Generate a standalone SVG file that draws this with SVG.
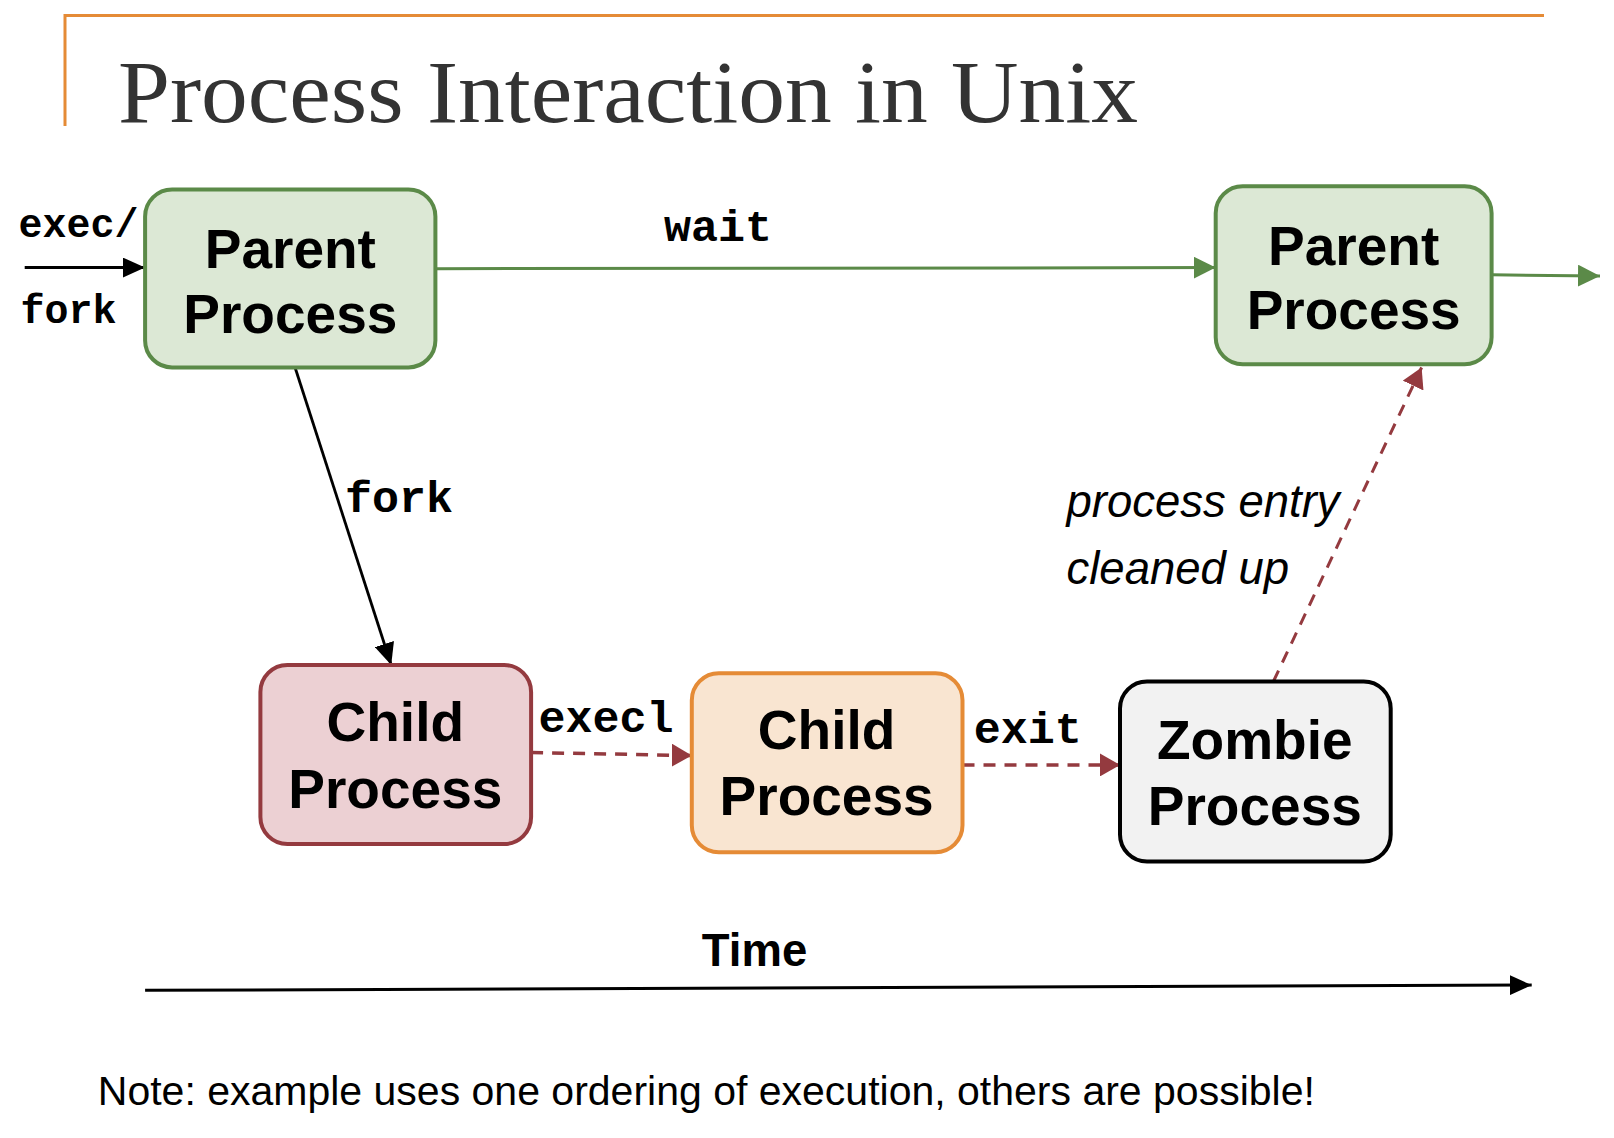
<svg xmlns="http://www.w3.org/2000/svg" width="1614" height="1138" viewBox="0 0 1614 1138">
<style>
.node rect{stroke-width:4}
.lbl{font-family:"Liberation Sans",Arial,sans-serif;font-weight:bold;font-size:55px;fill:#000;text-anchor:middle}
.mono{font-family:"Liberation Mono","Courier New",monospace;font-weight:bold;font-size:45px;fill:#000}
.mono.sm{font-size:40px}
.it{font-family:"Liberation Sans",Arial,sans-serif;font-style:italic;font-size:45.5px;fill:#000}
.dash{stroke:#943a3f;stroke-width:3.5;stroke-dasharray:12,9;fill:none}
</style>
<defs>
<marker id="ag" viewBox="0 0 10 10" refX="10" refY="5" markerWidth="22" markerHeight="22" orient="auto" markerUnits="userSpaceOnUse"><path d="M0,0 L10,5 L0,10 z" fill="#5b8a48"/></marker>
<marker id="ab" viewBox="0 0 10 10" refX="10" refY="5" markerWidth="22" markerHeight="20" orient="auto" markerUnits="userSpaceOnUse" preserveAspectRatio="none"><path d="M0,0 L10,5 L0,10 z" fill="#000"/></marker>
<marker id="ar" viewBox="0 0 10 10" refX="10" refY="5" markerWidth="20" markerHeight="23" orient="auto" markerUnits="userSpaceOnUse" preserveAspectRatio="none"><path d="M0,0 L10,5 L0,10 z" fill="#943a3f"/></marker>
</defs>
<rect width="1614" height="1138" fill="#fff"/>
<g id="frame">
<path d="M65,126 V15.5 H1544" fill="none" stroke="#e58b36" stroke-width="3"/>
<text x="118" y="121.5" font-family="'Liberation Serif','Times New Roman',serif" font-size="88" fill="#333" textLength="1020" lengthAdjust="spacingAndGlyphs">Process Interaction in Unix</text>
</g>
<g id="connectors">
<line x1="24.7" y1="267.6" x2="145" y2="267.6" stroke="#000" stroke-width="3" marker-end="url(#ab)"/>
<line x1="435.4" y1="268.7" x2="1215.7" y2="267.6" stroke="#5b8a48" stroke-width="3" marker-end="url(#ag)"/>
<line x1="1491.6" y1="274.8" x2="1600" y2="275.9" stroke="#5b8a48" stroke-width="3" marker-end="url(#ag)"/>
<line x1="295.4" y1="368.5" x2="391.2" y2="665" stroke="#000" stroke-width="2.8" marker-end="url(#ab)"/>
<line class="dash" x1="531.1" y1="752.5" x2="691.8" y2="755.6" marker-end="url(#ar)"/>
<line class="dash" x1="962.5" y1="764.9" x2="1120" y2="764.9" marker-end="url(#ar)"/>
<line class="dash" x1="1273.4" y1="681.5" x2="1421.6" y2="367.5" style="stroke-width:3" marker-end="url(#ar)"/>
<line x1="145.1" y1="990.3" x2="1531.7" y2="985.1" stroke="#000" stroke-width="3" marker-end="url(#ab)"/>
<text class="mono sm" x="18.5" y="236.8">exec/</text>
<text class="mono sm" x="20.6" y="323">fork</text>
<text class="mono" x="664" y="241">wait</text>
<text class="mono" x="345" y="511.6">fork</text>
<text class="mono" x="538.4" y="732">execl</text>
<text class="mono" x="973.8" y="743">exit</text>
<text class="it" x="1066.5" y="516.8">process entry</text>
<text class="it" x="1066.5" y="583.7">cleaned up</text>
</g>
<g id="parent1" class="node">
<rect x="145.1" y="189.4" width="290.3" height="178" rx="27" fill="#dce8d5" stroke="#5b8a48"/>
<text class="lbl" x="290.3" y="267.6">Parent</text>
<text class="lbl" x="290.3" y="332.5">Process</text>
</g>
<g id="parent2" class="node">
<rect x="1215.7" y="186.3" width="275.9" height="178" rx="27" fill="#dce8d5" stroke="#5b8a48"/>
<text class="lbl" x="1353.7" y="264.6">Parent</text>
<text class="lbl" x="1353.7" y="329.4">Process</text>
</g>
<g id="child1" class="node">
<rect x="260.4" y="665" width="270.7" height="179.1" rx="27" fill="#ecd0d3" stroke="#943a3f"/>
<text class="lbl" x="395.3" y="741.2">Child</text>
<text class="lbl" x="395.3" y="808.1">Process</text>
</g>
<g id="child2" class="node">
<rect x="691.8" y="673.2" width="270.7" height="179.1" rx="27" fill="#f9e5d1" stroke="#e58b36"/>
<text class="lbl" x="826.6" y="749.4">Child</text>
<text class="lbl" x="826.6" y="815.3">Process</text>
</g>
<g id="zombie" class="node">
<rect x="1120" y="681.5" width="270.7" height="180.1" rx="27" fill="#f2f2f2" stroke="#000"/>
<text class="lbl" x="1254.8" y="758.7">Zombie</text>
<text class="lbl" x="1254.8" y="824.5">Process</text>
</g>
<g id="footer">
<text x="754.5" y="965.6" font-family="'Liberation Sans',Arial,sans-serif" font-weight="bold" font-size="45.5" text-anchor="middle">Time</text>
<text x="97.8" y="1104.5" font-family="'Liberation Sans',Arial,sans-serif" font-size="41">Note: example uses one ordering of execution, others are possible!</text>
</g>
</svg>
